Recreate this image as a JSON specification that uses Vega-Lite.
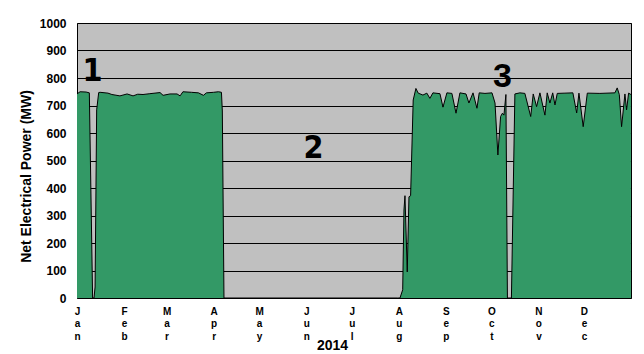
{
  "$schema": "https://vega.github.io/schema/vega-lite/v6.json",
  "width": 554,
  "height": 275,
  "autosize": "none",
  "padding": {"left": 77, "top": 23, "right": 13, "bottom": 56},
  "background": "#ffffff",
  "config": {
    "view": {"fill": "#C0C0C0", "stroke": "#000000", "strokeWidth": 1},
    "font": "Liberation Sans"
  },
  "encoding": {
    "x": {
      "field": "date", "type": "temporal",
      "scale": {"domain": [{"year": 2014, "month": 1, "date": 1}, {"year": 2015, "month": 1, "date": 1}]},
      "axis": {
        "values": [
          {"year": 2014, "month": 1, "date": 1}, {"year": 2014, "month": 2, "date": 1},
          {"year": 2014, "month": 3, "date": 1}, {"year": 2014, "month": 4, "date": 1},
          {"year": 2014, "month": 5, "date": 1}, {"year": 2014, "month": 6, "date": 1},
          {"year": 2014, "month": 7, "date": 1}, {"year": 2014, "month": 8, "date": 1},
          {"year": 2014, "month": 9, "date": 1}, {"year": 2014, "month": 10, "date": 1},
          {"year": 2014, "month": 11, "date": 1}, {"year": 2014, "month": 12, "date": 1}
        ],
        "labelExpr": "split(timeFormat(datum.value, '%b'), '')",
        "labelFont": "Liberation Sans",
        "labelFontWeight": "bold",
        "labelFontSize": 10,
        "labelColor": "#000000",
        "labelAlign": "center",
        "labelBaseline": "top",
        "labelLineHeight": 12.5,
        "labelPadding": 8,
        "labelOverlap": false,
        "labelFlush": false,
        "ticks": false,
        "tickSize": 0,
        "domain": false,
        "grid": false,
        "title": "2014",
        "titleFont": "Liberation Sans",
        "titleFontWeight": "bold",
        "titleFontSize": 14,
        "titleColor": "#000000",
        "titleX": 255,
        "titleY": 47,
        "titleAlign": "center",
        "titleBaseline": "middle"
      }
    },
    "y": {
      "field": "mw", "type": "quantitative",
      "scale": {"domain": [0, 1000], "nice": false},
      "axis": {
        "values": [0, 100, 200, 300, 400, 500, 600, 700, 800, 900, 1000],
        "format": "d",
        "labelFont": "Liberation Sans",
        "labelFontWeight": "bold",
        "labelFontSize": 12,
        "labelColor": "#000000",
        "labelPadding": 11,
        "labelOverlap": false,
        "ticks": false,
        "tickSize": 0,
        "domain": false,
        "grid": true,
        "gridColor": "#000000",
        "gridWidth": 1,
        "gridOpacity": 1,
        "title": "Net Electrical Power (MW)",
        "titleFont": "Liberation Sans",
        "titleFontWeight": "bold",
        "titleFontSize": 14,
        "titleColor": "#000000",
        "titleAngle": -90,
        "titleX": -51,
        "titleY": 153,
        "titleAlign": "center",
        "titleBaseline": "middle"
      }
    }
  },
  "layer": [
    {
      "data": {"name": "power", "values": [
        {"date": "2014-01-01T00:00", "mw": 742},
        {"date": "2014-01-03T00:00", "mw": 750},
        {"date": "2014-01-07T00:00", "mw": 749},
        {"date": "2014-01-09T03:00", "mw": 746},
        {"date": "2014-01-11T07:00", "mw": 0},
        {"date": "2014-01-12T05:00", "mw": 0},
        {"date": "2014-01-12T22:00", "mw": 40},
        {"date": "2014-01-13T23:00", "mw": 684},
        {"date": "2014-01-15T07:00", "mw": 747},
        {"date": "2014-01-16T05:00", "mw": 748},
        {"date": "2014-01-21T10:00", "mw": 745},
        {"date": "2014-01-24T00:00", "mw": 740},
        {"date": "2014-01-29T07:00", "mw": 735},
        {"date": "2014-02-03T00:00", "mw": 742},
        {"date": "2014-02-06T22:00", "mw": 735},
        {"date": "2014-02-10T00:00", "mw": 741},
        {"date": "2014-02-13T12:00", "mw": 740},
        {"date": "2014-02-18T00:00", "mw": 743},
        {"date": "2014-02-24T17:00", "mw": 747},
        {"date": "2014-02-26T17:00", "mw": 737},
        {"date": "2014-03-03T07:00", "mw": 742},
        {"date": "2014-03-07T22:00", "mw": 742},
        {"date": "2014-03-09T22:00", "mw": 735},
        {"date": "2014-03-11T19:00", "mw": 750},
        {"date": "2014-03-17T10:00", "mw": 748},
        {"date": "2014-03-22T00:00", "mw": 746},
        {"date": "2014-03-25T07:00", "mw": 737},
        {"date": "2014-03-27T07:00", "mw": 746},
        {"date": "2014-04-01T00:00", "mw": 748},
        {"date": "2014-04-04T05:00", "mw": 750},
        {"date": "2014-04-06T04:00", "mw": 748},
        {"date": "2014-04-06T18:00", "mw": 680},
        {"date": "2014-04-07T20:00", "mw": 0},
        {"date": "2014-07-31T00:00", "mw": 0},
        {"date": "2014-08-01T19:00", "mw": 0},
        {"date": "2014-08-03T14:00", "mw": 30},
        {"date": "2014-08-04T10:00", "mw": 320},
        {"date": "2014-08-05T02:00", "mw": 372},
        {"date": "2014-08-06T14:00", "mw": 95},
        {"date": "2014-08-07T17:00", "mw": 368},
        {"date": "2014-08-08T19:00", "mw": 372},
        {"date": "2014-08-10T12:00", "mw": 720},
        {"date": "2014-08-12T07:00", "mw": 762},
        {"date": "2014-08-13T19:00", "mw": 745},
        {"date": "2014-08-16T22:00", "mw": 738},
        {"date": "2014-08-19T12:00", "mw": 745},
        {"date": "2014-08-21T12:00", "mw": 726},
        {"date": "2014-08-23T12:00", "mw": 746},
        {"date": "2014-08-28T03:00", "mw": 743},
        {"date": "2014-08-30T03:00", "mw": 694},
        {"date": "2014-09-01T17:00", "mw": 746},
        {"date": "2014-09-05T00:00", "mw": 744},
        {"date": "2014-09-07T17:00", "mw": 672},
        {"date": "2014-09-10T07:00", "mw": 746},
        {"date": "2014-09-14T07:00", "mw": 742},
        {"date": "2014-09-16T05:00", "mw": 709},
        {"date": "2014-09-18T22:00", "mw": 746},
        {"date": "2014-09-21T12:00", "mw": 690},
        {"date": "2014-09-23T00:00", "mw": 746},
        {"date": "2014-09-26T19:00", "mw": 744},
        {"date": "2014-10-01T10:00", "mw": 746},
        {"date": "2014-10-03T10:00", "mw": 709},
        {"date": "2014-10-05T07:00", "mw": 520},
        {"date": "2014-10-07T02:00", "mw": 660},
        {"date": "2014-10-08T07:00", "mw": 672},
        {"date": "2014-10-09T07:00", "mw": 665},
        {"date": "2014-10-10T14:00", "mw": 740},
        {"date": "2014-10-11T14:00", "mw": 0},
        {"date": "2014-10-14T05:00", "mw": 0},
        {"date": "2014-10-16T12:00", "mw": 742},
        {"date": "2014-10-19T19:00", "mw": 746},
        {"date": "2014-10-23T02:00", "mw": 744},
        {"date": "2014-10-26T22:00", "mw": 660},
        {"date": "2014-10-28T14:00", "mw": 742},
        {"date": "2014-10-30T19:00", "mw": 696},
        {"date": "2014-11-02T00:00", "mw": 746},
        {"date": "2014-11-05T07:00", "mw": 665},
        {"date": "2014-11-06T19:00", "mw": 746},
        {"date": "2014-11-08T14:00", "mw": 709},
        {"date": "2014-11-10T10:00", "mw": 746},
        {"date": "2014-11-11T22:00", "mw": 702},
        {"date": "2014-11-13T10:00", "mw": 744},
        {"date": "2014-11-18T12:00", "mw": 745},
        {"date": "2014-11-23T17:00", "mw": 746},
        {"date": "2014-11-26T05:00", "mw": 673},
        {"date": "2014-11-27T17:00", "mw": 745},
        {"date": "2014-11-30T12:00", "mw": 623},
        {"date": "2014-12-03T05:00", "mw": 745},
        {"date": "2014-12-11T12:00", "mw": 744},
        {"date": "2014-12-21T10:00", "mw": 746},
        {"date": "2014-12-22T22:00", "mw": 764},
        {"date": "2014-12-24T07:00", "mw": 740},
        {"date": "2014-12-25T19:00", "mw": 623},
        {"date": "2014-12-28T00:00", "mw": 742},
        {"date": "2014-12-29T02:00", "mw": 684},
        {"date": "2014-12-30T10:00", "mw": 745},
        {"date": "2014-12-31T23:00", "mw": 740}
      ]},
      "layer": [
        {"mark": {"type": "area", "color": "#339966", "opacity": 1}},
        {"mark": {"type": "line", "color": "#000000", "strokeWidth": 1}}
      ]
    },
    {
      "data": {"values": [
        {"date": "2014-01-11T05:00", "mw": 825, "label": "1"},
        {"date": "2014-06-05T19:00", "mw": 547, "label": "2"}
      ]},
      "mark": {"type": "text", "font": "Liberation Sans Narrow, DejaVu Sans Condensed, sans-serif", "fontWeight": "bold", "fontSize": 32, "color": "#000000", "align": "center", "baseline": "middle"},
      "encoding": {
        "text": {"field": "label"}
      }
    },
    {
      "data": {"values": [
        {"date": "2014-10-08T07:00", "mw": 802, "label": "3"}
      ]},
      "mark": {"type": "text", "font": "Liberation Sans", "fontWeight": "bold", "fontSize": 34, "color": "#000000", "align": "center", "baseline": "middle"},
      "encoding": {
        "text": {"field": "label"}
      }
    }
  ]
}
